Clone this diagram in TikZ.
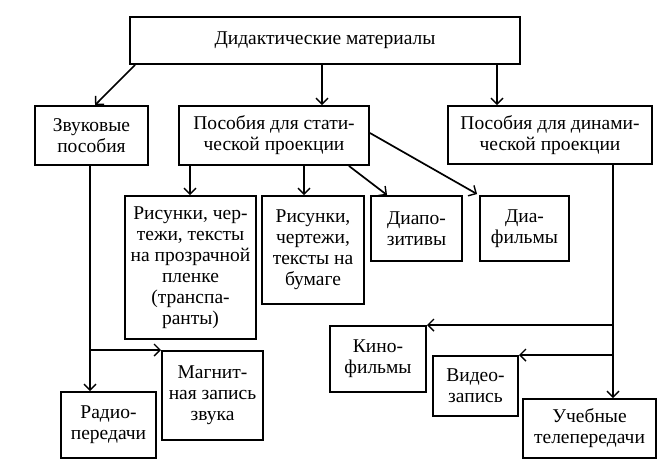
\documentclass[tikz,border=0pt]{standalone}
\usepackage{fontspec}
\setmainfont{Liberation Serif}
\usetikzlibrary{arrows.meta,calc}
\begin{document}
\begin{tikzpicture}[x=1pt,y=-1pt,
  box/.style={draw,line width=1.9pt,inner sep=0pt,align=center,
    font=\fontsize{19.5}{21}\selectfont},
  arr/.style={line width=1.7pt,-{Straight Barb[length=6pt,width=12pt,line width=1.4pt]}}]
\path[use as bounding box] (0,0) rectangle (672,474);
\node[box,minimum width=390pt,minimum height=47pt] (top) at (325,40.5) {Дидактические материалы};
\node[box,minimum width=113pt,minimum height=59pt] (zv) at (91.5,135.5) {Звуковые\\пособия};
\node[box,minimum width=190pt,minimum height=59pt] (stat) at (274,135.5) {Пособия для стати-\\ческой проекции};
\node[box,minimum width=204pt,minimum height=58pt] (dyn) at (550,135) {Пособия для динами-\\ческой проекции};
\node[box,minimum width=131pt,minimum height=143pt] (ris1) at (190.5,267.5) {Рисунки, чер-\\тежи, тексты\\на прозрачной\\пленке\\(транспа-\\ранты)};
\node[box,minimum width=102pt,minimum height=108pt] (ris2) at (313,250) {Рисунки,\\чертежи,\\тексты на\\бумаге};
\node[box,minimum width=91pt,minimum height=65pt] (diapo) at (416.5,228.5) {Диапо-\\зитивы};
\node[box,minimum width=89pt,minimum height=65pt] (diaf) at (524.5,228.5) {Диа-\\фильмы};
\node[box,minimum width=96pt,minimum height=66pt] (kino) at (378,359) {Кино-\\фильмы};
\node[box,minimum width=85pt,minimum height=60pt] (video) at (475.5,386) {Видео-\\запись};
\node[box,minimum width=133pt,minimum height=59pt] (ucheb) at (589.5,428.5) {Учебные\\телепередачи};
\node[box,minimum width=101pt,minimum height=89pt] (mag) at (212.5,395.5) {Магнит-\\ная запись\\звука};
\node[box,minimum width=95pt,minimum height=66pt] (radio) at (108.5,425) {Радио-\\передачи};
\coordinate (x322) at (322,0);
\coordinate (x497) at (497,0);
\coordinate (x190) at (190,0);
\coordinate (x304) at (304,0);
\coordinate (dv) at (613,0);
\coordinate (zx) at (90,0);
\draw[arr] ($(top.south west)+(6,0)$) -- ($(zv.north)+(3.5,0)$);
\draw[arr] (top.south -| x322) -- (stat.north -| x322);
\draw[arr] (top.south -| x497) -- (dyn.north -| x497);
\draw[arr] (stat.south -| x190) -- (ris1.north -| x190);
\draw[arr] (stat.south -| x304) -- (ris2.north -| x304);
\draw[arr] ($(stat.south east)+(-21,0)$) -- ($(diapo.north west)+(17,0)$);
\draw[arr] ($(stat.east)+(0,-2.5)$) -- ($(diaf.north west)+(-2,-1)$);
\draw[arr] (dyn.south -| dv) -- (ucheb.north -| dv);
\draw[arr] (dv |- kino.north east) -- (kino.north east);
\draw[arr] (dv |- video.north east) -- (video.north east);
\draw[arr] (zv.south -| zx) -- (radio.north -| zx);
\draw[arr] (zx |- mag.north west) -- (mag.north west);
\end{tikzpicture}
\end{document}
